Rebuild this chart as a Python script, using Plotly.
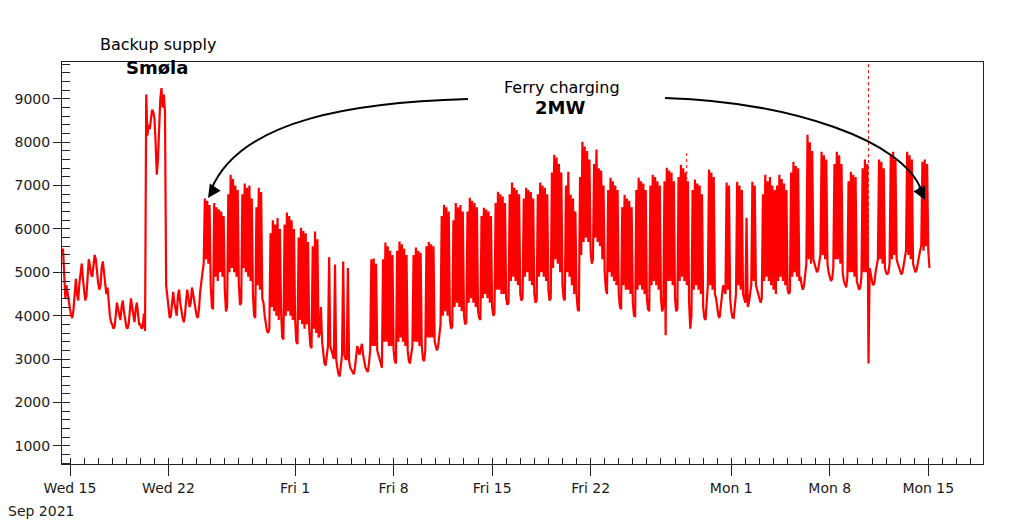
import pandas as pd
import plotly.graph_objects as go


# load readings every 2 hours, starting 2021-09-14 12:00 (kW)
load_kw = [
    5550, 4800, 4400, 4700, 4500, 4250,                                   # Sep 14 (12:00-22:00)
    4150, 4000, 3950, 4150, 4600, 4850, 4500, 4350, 4750, 5050, 5200, 4850,  # Sep 15
    4550, 4350, 4450, 4900, 5300, 5150, 4950, 4900, 5250, 5400, 5300, 5000,  # Sep 16
    4750, 4600, 4700, 5100, 5250, 5000, 4800, 4500, 4650, 4300, 4000, 3850,  # Sep 17
    3800, 3700, 3750, 4000, 4300, 4150, 4000, 3900, 4200, 4350, 4100, 3900,  # Sep 18
    3750, 3700, 3800, 4100, 4400, 4200, 3950, 3850, 4150, 4300, 4050, 3800,  # Sep 19
    3800, 3700, 3750, 4050, 3650, 9100, 8150, 8400, 8300, 8600, 8750, 8700,  # Sep 20
    8550, 8000, 7250, 7600, 8400, 9000, 9250, 8800, 9100, 8700, 4700, 4400,  # Sep 21
    4250, 3950, 4000, 4250, 4550, 4300, 4100, 4000, 4450, 4600, 4300, 4100,  # Sep 22
    3950, 3850, 4000, 4350, 4600, 4400, 4200, 4300, 4650, 4500, 4350, 4150,  # Sep 23
    4000, 3950, 4150, 4550, 4850, 5000, 5200, 6700, 5300, 6650, 5200, 6550,  # Sep 24
    4700, 4200, 4150, 6600, 4900, 6500, 4800, 6450, 5000, 6400, 4900, 6300,  # Sep 25
    4600, 4100, 4200, 6800, 5000, 7250, 5100, 7150, 5000, 7000, 4900, 6900,  # Sep 26
    4700, 4250, 4300, 6800, 5100, 7050, 5000, 6950, 4900, 7000, 4800, 6700,  # Sep 27
    4500, 4000, 3950, 6500, 4700, 6950, 4600, 6850, 4400, 4300, 4000, 3800,  # Sep 28
    3650, 3600, 3700, 5900, 4200, 6200, 4100, 6100, 4000, 6250, 3900, 6000,  # Sep 29
    4100, 3500, 3450, 6100, 4000, 6380, 4100, 6300, 4000, 6200, 3900, 6000,  # Sep 30
    3900, 3400, 3350, 5800, 3900, 6030, 3800, 5950, 3700, 5900, 3800, 5700,  # Oct 1
    3700, 3300, 3250, 5600, 3700, 5940, 3600, 5760, 3500, 3600, 4200, 3400,  # Oct 2
    3100, 2900, 2850, 3100, 3300, 5350, 3300, 3200, 3100, 3000, 5180, 3000,  # Oct 3
    2800, 2650, 2600, 2800, 3100, 5250, 3100, 3000, 3000, 5100, 2950, 2800,  # Oct 4
    2750, 2700, 2650, 2800, 3150, 3300, 3200, 3100, 3250, 3350, 3100, 2900,  # Oct 5
    2800, 2750, 2700, 2900, 3200, 5300, 3300, 5320, 3300, 5200, 3200, 3100,  # Oct 6
    3000, 2850, 2800, 5300, 3400, 5690, 3400, 5600, 3300, 5500, 3300, 5400,  # Oct 7
    3200, 2950, 2900, 5500, 3400, 5710, 3500, 5650, 3400, 5550, 3300, 5400,  # Oct 8
    3200, 2950, 2900, 3100, 3300, 5400, 3400, 5570, 3400, 5500, 3300, 5450,  # Oct 9
    3300, 3000, 2950, 3200, 5600, 3500, 5700, 3500, 5650, 3500, 5600, 3400,  # Oct 10
    3300, 3200, 3300, 3500, 3800, 6300, 4000, 6560, 4100, 6500, 4000, 6400,  # Oct 11
    3900, 3700, 3750, 6200, 4200, 6600, 4300, 6500, 4200, 6550, 4100, 6400,  # Oct 12
    4000, 3800, 3850, 6400, 4300, 6720, 4400, 6650, 4300, 6600, 4200, 6500,  # Oct 13
    4100, 3950, 3900, 6300, 4400, 6490, 4500, 6450, 4400, 6400, 4300, 6300,  # Oct 14
    4200, 4000, 4050, 6600, 4600, 6860, 4600, 6800, 4500, 6750, 4500, 6600,  # Oct 15
    4400, 4250, 4300, 6800, 4800, 7070, 4900, 6950, 4800, 6900, 4700, 6800,  # Oct 16
    4500, 4350, 4400, 6700, 4900, 6950, 5000, 6900, 4800, 6850, 4700, 6700,  # Oct 17
    4500, 4300, 4350, 6800, 4900, 7070, 5000, 7000, 4900, 6950, 4800, 6800,  # Oct 18
    4600, 4350, 4400, 7300, 5100, 7710, 5300, 7650, 5200, 7500, 5000, 7300,  # Oct 19
    4700, 4400, 4350, 7000, 5000, 7320, 4900, 6790, 4700, 6700, 4500, 6400,  # Oct 20
    4500, 4150, 4100, 7200, 5400, 8010, 5700, 7900, 5800, 7800, 5700, 7600,  # Oct 21
    5500, 5200, 5300, 7500, 5800, 7830, 5700, 7400, 5600, 7350, 5300, 7000,  # Oct 22
    5000, 4600, 4500, 6900, 5000, 7180, 4900, 7100, 4800, 7000, 4700, 6900,  # Oct 23
    4500, 4200, 4150, 6500, 4700, 6790, 4600, 6700, 4600, 6650, 4500, 6500,  # Oct 24
    4300, 4000, 3990, 6900, 4600, 7180, 4700, 7100, 4600, 7050, 4500, 6900,  # Oct 25
    4400, 4150, 4100, 7000, 4700, 7250, 4800, 7200, 4700, 7100, 4600, 7000,  # Oct 26
    4400, 4100, 4200, 7100, 3550, 7410, 4800, 7350, 4800, 7300, 4700, 7100,  # Oct 27
    4400, 4100, 4150, 7200, 4800, 7480, 4900, 7400, 4800, 7300, 4700, 7100,  # Oct 28
    4300, 3700, 4000, 6900, 4600, 7140, 4700, 7050, 4600, 7000, 4500, 6800,  # Oct 29
    4200, 3950, 3900, 4300, 4700, 7370, 4700, 7300, 4600, 7200, 4500, 4400,  # Oct 30
    4200, 4000, 3950, 4200, 4500, 4700, 4600, 4500, 7070, 4600, 7000, 4400,  # Oct 31
    4100, 3960, 3950, 4200, 4500, 7090, 4700, 7000, 4600, 6900, 4500, 4400,  # Nov 1
    4300, 6260, 4200, 4300, 4500, 4700, 7090, 4800, 7000, 4700, 4600, 4500,  # Nov 2
    4400, 4300, 4400, 6800, 4800, 7250, 4900, 7100, 4800, 7200, 4700, 7000,  # Nov 3
    4600, 6900, 4500, 7000, 4800, 7250, 4900, 7150, 4800, 7050, 4700, 6900,  # Nov 4
    4600, 4500, 4550, 7300, 4900, 7550, 5000, 7450, 4900, 7400, 4800, 4900,  # Nov 5
    4700, 4600, 4700, 5000, 5200, 8170, 5300, 8000, 5200, 7800, 5300, 5200,  # Nov 6
    5100, 5000, 5050, 5200, 5400, 7780, 5400, 7700, 5300, 7600, 5200, 5000,  # Nov 7
    4900, 4800, 4850, 5100, 7500, 5300, 7780, 5300, 7700, 5200, 7500, 5000,  # Nov 8
    4800, 4700, 4650, 4900, 7100, 5000, 7320, 5000, 7250, 4900, 7200, 4800,  # Nov 9
    4700, 4600, 4650, 4900, 7400, 5000, 7600, 5000, 7500, 2900, 5100, 4900,  # Nov 10
    4800, 4700, 4750, 5000, 5200, 5300, 7600, 5300, 7550, 5200, 7400, 5100,  # Nov 11
    5000, 4950, 5000, 5200, 7700, 5300, 7780, 5400, 7600, 5300, 5200, 5100,  # Nov 12
    5000, 4950, 5000, 5200, 5400, 5500, 7780, 5400, 7700, 5300, 7600, 5200,  # Nov 13
    5100, 5000, 5050, 5200, 5400, 5500, 5600, 7550, 5500, 7600, 5600, 7500,  # Nov 14
    5500, 5100,                                                           # Nov 15
]
load_start = '2021-09-14 12:00'

# logger glitches drawn dashed
glitch_times = ['2021-10-28 20:00', '2021-11-10 18:00']
glitch_top = [7750, 9800]
glitch_bottom = [6900, 5000]

tick_dates = ['2021-09-15', '2021-09-22', '2021-10-01', '2021-10-08', '2021-10-15',
              '2021-10-22', '2021-11-01', '2021-11-08', '2021-11-15']
tick_labels = ['Wed 15', 'Wed 22', 'Fri 1', 'Fri 8', 'Fri 15',
               'Fri 22', 'Mon 1', 'Mon 8', 'Mon 15']

W, H = 1024, 522
ML, MR, MT, MB = 62, 41, 62, 58


def paper(px, py):
    # pixel position on the page -> paper coords
    return (px - ML) / (W - ML - MR), (H - MB - py) / (H - MT - MB)


def curve(p0, c1, c2, p3):
    pts = [paper(*p) for p in (p0, c1, c2, p3)]
    return 'M {:.4f},{:.4f} C {:.4f},{:.4f} {:.4f},{:.4f} {:.4f},{:.4f}'.format(
        *[v for p in pts for v in p])


times = pd.date_range(load_start, periods=len(load_kw), freq='2h')

gx, gy = [], []
for t, top, bot in zip(glitch_times, glitch_top, glitch_bottom):
    gx += [t, t, None]
    gy += [top, bot, None]

fig = go.Figure()
fig.add_trace(go.Scatter(x=times, y=load_kw, mode='lines',
                         line=dict(color='#ff0000', width=2.2), name='Load'))
fig.add_trace(go.Scatter(x=gx, y=gy, mode='lines',
                         line=dict(color='#ff0000', width=1, dash='3px,3px'), name='glitch'))

fig.update_layout(
    width=W, height=H,
    margin=dict(l=ML, r=MR, t=MT, b=MB),
    paper_bgcolor='white', plot_bgcolor='white',
    showlegend=False,
    font=dict(family='DejaVu Sans', size=14, color='#1a1a1a'),
)

fig.update_xaxes(
    range=['2021-09-14 10:20', '2021-11-18 21:20'],
    tickmode='array', tickvals=tick_dates, ticktext=tick_labels,
    ticks='outside', ticklen=11, tickcolor='#222',
    showline=True, linecolor='#222', mirror=True,
    showgrid=False, zeroline=False,
    minor=dict(dtick=86400000, tick0='2021-09-15', ticks='inside', ticklen=6, tickcolor='#222', showgrid=False),
)
fig.update_yaxes(
    range=[580, 9850],
    tick0=0, dtick=1000, tickformat='d',
    ticks='outside', ticklen=8, tickcolor='#222',
    showline=True, linecolor='#222', mirror=True,
    showgrid=False, zeroline=False,
    minor=dict(dtick=200, ticks='inside', ticklen=8, tickcolor='#222', showgrid=False),
)

# curved arrows
arrow_paths = [
    curve((468, 99), (360, 102), (240, 118), (211, 190)),
    curve((665, 98), (790, 102), (905, 140), (922, 192)),
]
for p in arrow_paths:
    fig.add_shape(type='path', path=p, xref='paper', yref='paper',
                  line=dict(color='black', width=2))

for tip, off in [((208, 198), (8, -12)), ((925, 200), (-7, -14))]:
    x, y = paper(*tip)
    fig.add_annotation(x=x, y=y, xref='paper', yref='paper', text='',
                       showarrow=True, arrowhead=2, arrowsize=1.3, arrowwidth=2,
                       arrowcolor='black', ax=off[0], ay=off[1])

labels = [
    ('Backup supply', (158, 45), False),
    ('Smøla', (157, 67), True),
    ('Ferry charging', (562, 87), False),
    ('2MW', (560, 107), True),
]
for txt, pos, bold in labels:
    x, y = paper(*pos)
    fig.add_annotation(x=x, y=y, xref='paper', yref='paper',
                       xanchor='center', yanchor='middle',
                       text='<b>%s</b>' % txt if bold else txt, showarrow=False,
                       font=dict(family='DejaVu Sans', size=18 if bold else 16, color='black'))

x, y = paper(41, 511)
fig.add_annotation(x=x, y=y, xref='paper', yref='paper', text='Sep 2021', showarrow=False,
                   xanchor='center', yanchor='middle',
                   font=dict(family='DejaVu Sans', size=14, color='#1a1a1a'))

fig.write_html('out.html', config={'displayModeBar': False},
               post_script="document.body.style.margin='0';")
